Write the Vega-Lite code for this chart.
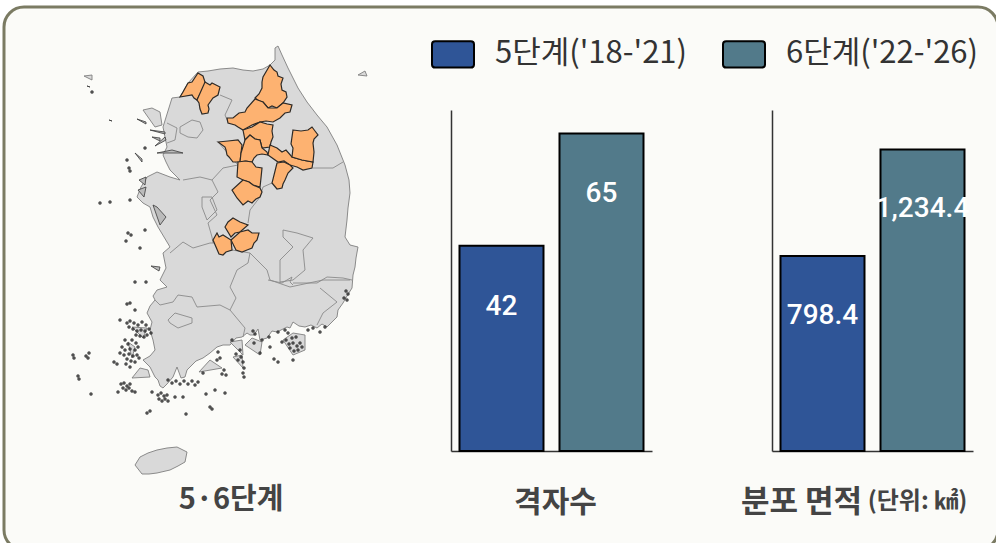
{
"$schema":"https://vega.github.io/schema/vega-lite/v6.json",
"width":994,"height":543,
"autosize":"none",
"padding":{"left":4,"top":7,"right":0,"bottom":0},
"background":"#ffffff",
"view":{"fill":"#fbfbf8","stroke":"#7b7b63","strokeWidth":3,"cornerRadius":20},
"config":{"font":"Noto Sans CJK KR"},
"datasets":{
"land":[
{"type":"Feature","properties":{"name":"본토"},"geometry":{"type":"Polygon","coordinates":[[[172,98],[180,97],[188,83],[198,72],[208,71],[220,69],[233,68],[243,70],[253,71],[263,69],[270,65],[275,60],[275,48],[278,46],[282,55],[288,68],[298,88],[307,102],[317,115],[327,127],[337,145],[345,165],[349,180],[350,193],[348,208],[347,220],[345,237],[350,245],[358,247],[356,258],[355,267],[353,275],[352,288],[347,296],[343,303],[338,310],[337,317],[327,327],[322,324],[317,328],[311,325],[305,327],[299,326],[293,322],[290,328],[287,327],[277,332],[272,331],[267,338],[260,340],[258,329],[254,335],[250,335],[247,333],[242,337],[236,338],[230,345],[223,345],[217,347],[210,353],[203,358],[196,361],[190,367],[187,370],[185,377],[181,378],[177,367],[175,372],[173,377],[167,384],[163,388],[160,386],[158,380],[155,377],[150,367],[143,360],[150,356],[155,350],[153,340],[150,330],[152,322],[147,313],[150,306],[155,300],[153,296],[157,290],[167,287],[160,280],[166,268],[163,253],[170,247],[164,237],[158,227],[153,217],[150,207],[143,203],[137,197],[141,187],[147,177],[157,172],[170,177],[180,180],[175,175],[170,170],[166,162],[163,155],[167,147],[165,137],[163,127],[163,112]]]}},
{"type":"Feature","properties":{"name":"강화"},"geometry":{"type":"Polygon","coordinates":[[[143,110],[152,108],[160,112],[162,125],[155,127],[148,120]]]}},
{"type":"Feature","properties":{"name":"제주"},"geometry":{"type":"Polygon","coordinates":[[[135,465],[140,457],[148,453],[157,450],[167,448],[177,447],[187,452],[185,462],[178,466],[170,470],[157,473],[149,474],[142,474],[138,470]]]}},
{"type":"Feature","properties":{"name":"백령"},"geometry":{"type":"Polygon","coordinates":[[[84,76],[92,75],[92,80],[87,81]]]}},
{"type":"Feature","properties":{"name":"울릉"},"geometry":{"type":"Polygon","coordinates":[[[358,75],[365,71],[367,76],[362,80]]]}},
{"type":"Feature","properties":{"name":"진도"},"geometry":{"type":"Polygon","coordinates":[[[132,378],[140,368],[148,370],[150,377],[140,383]]]}},
{"type":"Feature","properties":{"name":"완도권"},"geometry":{"type":"Polygon","coordinates":[[[199,372],[210,360],[222,368],[212,377]]]}},
{"type":"Feature","properties":{"name":"남해"},"geometry":{"type":"Polygon","coordinates":[[[245,345],[252,338],[262,342],[260,355],[250,355]]]}},
{"type":"Feature","properties":{"name":"거제"},"geometry":{"type":"Polygon","coordinates":[[[283,340],[293,333],[305,335],[305,350],[293,355],[287,348]]]}},
{"type":"Feature","properties":{"name":"고흥권"},"geometry":{"type":"Polygon","coordinates":[[[230,342],[242,340],[243,355],[232,355]]]}},
{"type":"Feature","properties":{"name":"돌산"},"geometry":{"type":"Polygon","coordinates":[[[233,357],[242,355],[243,368],[235,365]]]}},
{"type":"Feature","properties":{"name":"신안1"},"geometry":{"type":"Polygon","coordinates":[[[128,342],[135,347],[132,358],[120,353]]]}},
{"type":"Feature","properties":{"name":"신안2"},"geometry":{"type":"Polygon","coordinates":[[[132,327],[147,328],[143,338],[135,335]]]}}
],
"borders":[
{"type":"Feature","properties":{"name":"경계"},"geometry":{"type":"MultiLineString","coordinates":[
[[220,95],[232,100],[225,115],[228,122]],
[[218,142],[238,165],[223,168],[212,180],[200,177],[183,180]],
[[313,168],[333,168],[343,162]],
[[272,183],[263,187],[260,197],[250,210],[248,223]],
[[212,180],[218,192],[210,200],[217,215],[208,223],[212,237],[213,243]],
[[202,197],[212,197],[217,210],[207,220],[202,207],[202,197]],
[[170,253],[183,242],[193,248],[210,243],[217,243]],
[[232,250],[250,253],[248,263],[237,270],[230,287],[236,298],[230,310],[245,328],[243,337]],
[[155,300],[160,305],[173,302],[178,295],[192,297],[197,307],[220,305],[230,310]],
[[250,253],[267,270],[270,280],[290,287],[323,280],[350,280]],
[[283,230],[297,233],[313,238],[303,250],[305,270],[293,280],[280,282],[280,260],[293,247],[283,237],[283,230]],
[[168,320],[175,313],[192,318],[192,323],[178,328],[170,323],[168,320]],
[[293,283],[317,283],[327,277],[343,278],[352,280]],
[[320,288],[337,302],[323,313],[317,325]],
[[268,280],[282,283],[292,277],[290,282],[293,285]],
[[180,127],[192,120],[200,122],[203,130],[197,138],[188,137],[180,133],[180,127]],
[[167,123],[177,128],[175,140],[167,143]]
]}}
],
"isles":[
{"type":"Feature","properties":{"name":"서해 도서"},"geometry":{"type":"MultiPolygon","coordinates":[
[[[87,86],[90,87],[89,90]]],[[[109,120],[112,121],[110,125]]],
[[[137,119],[146,122],[146,124],[138,121]]],[[[150,130],[165,132],[165,134],[151,132]]],[[[152,137],[160,138],[160,141],[154,140]]],[[[155,146],[165,137],[166,140],[158,147]]],
[[[135,153],[142,159],[142,162],[136,158]]],[[[157,153],[172,150],[183,153],[170,155]]],
[[[139,180],[146,177],[145,185],[141,186]]],[[[138,190],[146,187],[144,197],[139,197]]],
[[[153,205],[157,207],[166,217],[160,225],[155,218]]],[[[151,266],[160,267],[159,271],[153,270]]]
]}}
],
"specks":[
{"lon":92,"lat":92},{"lon":127,"lat":160},{"lon":129,"lat":168},{"lon":130,"lat":171},{"lon":145,"lat":148},{"lon":100,"lat":203},{"lon":110,"lat":202},{"lon":130,"lat":200},{"lon":128,"lat":233},{"lon":131,"lat":235},{"lon":126,"lat":241},{"lon":145,"lat":230},{"lon":140,"lat":248},{"lon":135,"lat":282},{"lon":146,"lat":282},{"lon":127,"lat":304},{"lon":130,"lat":303},{"lon":135,"lat":310},{"lon":120,"lat":320},
{"lon":127,"lat":323},{"lon":130,"lat":321},{"lon":134,"lat":323},{"lon":138,"lat":325},{"lon":142,"lat":322},{"lon":146,"lat":325},{"lon":129,"lat":327},{"lon":133,"lat":329},{"lon":137,"lat":331},{"lon":141,"lat":330},{"lon":145,"lat":331},{"lon":149,"lat":329},{"lon":136,"lat":335},{"lon":140,"lat":336},{"lon":144,"lat":337},{"lon":147,"lat":335},{"lon":151,"lat":333},
{"lon":125,"lat":340},{"lon":128,"lat":344},{"lon":132,"lat":340},{"lon":136,"lat":343},{"lon":122,"lat":347},{"lon":125,"lat":350},{"lon":130,"lat":349},{"lon":135,"lat":350},{"lon":138,"lat":347},{"lon":120,"lat":353},{"lon":124,"lat":355},{"lon":129,"lat":354},{"lon":133,"lat":356},{"lon":137,"lat":355},{"lon":127,"lat":359},{"lon":131,"lat":361},{"lon":135,"lat":362},{"lon":139,"lat":358},{"lon":114,"lat":362},{"lon":117,"lat":364},{"lon":126,"lat":364},{"lon":130,"lat":367},
{"lon":121,"lat":384},{"lon":124,"lat":383},{"lon":127,"lat":386},{"lon":130,"lat":384},{"lon":123,"lat":388},{"lon":126,"lat":390},{"lon":129,"lat":388},{"lon":132,"lat":391},{"lon":118,"lat":392},{"lon":135,"lat":392},{"lon":152,"lat":392},
{"lon":158,"lat":395},{"lon":161,"lat":393},{"lon":164,"lat":396},{"lon":167,"lat":395},{"lon":159,"lat":399},{"lon":162,"lat":401},{"lon":165,"lat":399},{"lon":168,"lat":401},{"lon":183,"lat":397},{"lon":175,"lat":397},
{"lon":168,"lat":380},{"lon":172,"lat":383},{"lon":176,"lat":381},{"lon":180,"lat":384},{"lon":184,"lat":381},{"lon":188,"lat":384},{"lon":192,"lat":381},{"lon":195,"lat":385},{"lon":198,"lat":382},{"lon":203,"lat":373},{"lon":206,"lat":394},{"lon":215,"lat":390},{"lon":225,"lat":393},{"lon":210,"lat":407},{"lon":212,"lat":409},{"lon":147,"lat":413},{"lon":150,"lat":411},{"lon":186,"lat":414},{"lon":73,"lat":355},{"lon":74,"lat":358},{"lon":86,"lat":356},{"lon":89,"lat":353},{"lon":88,"lat":358},{"lon":78,"lat":376},{"lon":79,"lat":379},{"lon":91,"lat":394},
{"lon":218,"lat":352},{"lon":220,"lat":358},{"lon":217,"lat":360},{"lon":224,"lat":370},{"lon":222,"lat":374},{"lon":226,"lat":375},{"lon":236,"lat":354},{"lon":240,"lat":350},{"lon":238,"lat":360},{"lon":241,"lat":357},{"lon":243,"lat":362},{"lon":244,"lat":368},{"lon":243,"lat":373},{"lon":244,"lat":377},{"lon":253,"lat":331},{"lon":255,"lat":334},{"lon":260,"lat":353},{"lon":274,"lat":359},{"lon":278,"lat":362},{"lon":270,"lat":347},{"lon":282,"lat":342},
{"lon":285,"lat":330},{"lon":288,"lat":333},{"lon":292,"lat":338},{"lon":296,"lat":337},{"lon":286,"lat":340},{"lon":289,"lat":344},{"lon":293,"lat":343},{"lon":297,"lat":346},{"lon":300,"lat":343},{"lon":290,"lat":348},{"lon":294,"lat":351},{"lon":298,"lat":350},{"lon":302,"lat":347},{"lon":293,"lat":360},{"lon":308,"lat":330},{"lon":313,"lat":328},{"lon":320,"lat":332},{"lon":325,"lat":327},{"lon":346,"lat":291},{"lon":348,"lat":294},{"lon":344,"lat":298},{"lon":347,"lat":300},{"lon":278,"lat":332},{"lon":254,"lat":343},{"lon":232,"lat":340},{"lon":262,"lat":340},{"lon":269,"lat":337}
],
"orange":[
{"type":"Feature","properties":{"name":"a"},"geometry":{"type":"Polygon","coordinates":[[[180,97],[183,92],[188,83],[192,82],[198,73],[203,76],[205,82],[204,88],[202,92],[199,96],[197,100],[194,98],[192,95],[186,94]]]}},
{"type":"Feature","properties":{"name":"b"},"geometry":{"type":"Polygon","coordinates":[[[205,82],[210,85],[212,83],[220,87],[218,95],[213,98],[208,105],[209,109],[208,113],[202,114],[200,109],[199,103],[197,100],[202,92]]]}},
{"type":"Feature","properties":{"name":"c"},"geometry":{"type":"Polygon","coordinates":[[[270,65],[274,70],[277,72],[278,76],[283,78],[281,84],[282,90],[286,92],[287,97],[283,103],[277,108],[272,106],[268,108],[263,102],[259,101],[255,98],[259,94],[262,88],[262,82],[263,77],[268,70]]]}},
{"type":"Feature","properties":{"name":"d"},"geometry":{"type":"Polygon","coordinates":[[[255,99],[263,102],[268,108],[277,108],[283,103],[292,105],[290,112],[285,113],[280,118],[273,122],[266,121],[260,122],[252,125],[243,130],[238,127],[235,125],[228,123],[227,118],[233,118],[239,113],[245,112],[247,108],[250,105]]]}},
{"type":"Feature","properties":{"name":"e"},"geometry":{"type":"Polygon","coordinates":[[[243,130],[252,127],[260,122],[267,124],[273,125],[272,131],[273,137],[271,142],[270,147],[262,148],[260,140],[255,139],[250,135],[245,140],[242,137]]]}},
{"type":"Feature","properties":{"name":"f"},"geometry":{"type":"Polygon","coordinates":[[[218,142],[228,141],[238,140],[242,145],[241,153],[240,162],[233,162],[229,157],[227,155],[226,150],[225,147],[220,145]]]}},
{"type":"Feature","properties":{"name":"g"},"geometry":{"type":"Polygon","coordinates":[[[245,140],[250,135],[255,139],[260,140],[262,148],[267,152],[268,155],[262,154],[257,155],[254,158],[252,162],[246,161],[240,162],[241,153],[242,145]]]}},
{"type":"Feature","properties":{"name":"h"},"geometry":{"type":"Polygon","coordinates":[[[270,145],[277,148],[282,152],[286,150],[292,157],[302,160],[313,162],[312,168],[303,170],[297,167],[290,165],[284,161],[278,162],[268,155],[267,152]]]}},
{"type":"Feature","properties":{"name":"i"},"geometry":{"type":"Polygon","coordinates":[[[293,130],[301,131],[308,130],[312,127],[315,131],[318,135],[314,139],[313,143],[314,152],[313,162],[302,160],[292,157],[293,148],[291,144],[290,138]]]}},
{"type":"Feature","properties":{"name":"j"},"geometry":{"type":"Polygon","coordinates":[[[277,163],[284,162],[290,165],[293,168],[288,173],[285,180],[283,184],[282,188],[277,189],[272,183],[271,172]]]}},
{"type":"Feature","properties":{"name":"k"},"geometry":{"type":"Polygon","coordinates":[[[238,162],[245,161],[252,162],[256,167],[262,168],[261,178],[260,187],[253,185],[249,182],[243,180],[237,177],[233,173]]]}},
{"type":"Feature","properties":{"name":"l"},"geometry":{"type":"Polygon","coordinates":[[[243,180],[249,182],[253,185],[260,188],[262,192],[260,197],[256,199],[252,203],[248,201],[243,205],[237,198],[232,190],[235,183]]]}},
{"type":"Feature","properties":{"name":"m"},"geometry":{"type":"Polygon","coordinates":[[[225,227],[228,222],[233,218],[240,222],[248,225],[240,232],[235,233],[231,237],[223,235]]]}},
{"type":"Feature","properties":{"name":"n"},"geometry":{"type":"Polygon","coordinates":[[[231,240],[240,232],[248,230],[252,233],[259,233],[257,240],[254,243],[252,248],[247,250],[242,252],[236,250],[232,247]]]}},
{"type":"Feature","properties":{"name":"o"},"geometry":{"type":"Polygon","coordinates":[[[213,240],[217,233],[219,237],[223,235],[231,240],[232,250],[226,252],[223,255],[219,254],[217,250]]]}}
],
"cells":[{"period":"5단계('18-'21)","value":42},{"period":"6단계('22-'26)","value":65}],
"area":[{"period":"5단계('18-'21)","value":798.4,"label":"798.4"},{"period":"6단계('22-'26)","value":1234.4,"label":"1,234.4"}]
},
"layer":[
{"data":{"name":"land"},"mark":{"type":"geoshape","fill":"#d9d9d9","stroke":"#7f7f7f","strokeWidth":0.9},"projection":{"type":"identity","scale":1,"translate":[-4,-7]}},
{"data":{"name":"borders"},"mark":{"type":"geoshape","filled":false,"stroke":"#8a8a8a","strokeWidth":0.9},"projection":{"type":"identity","scale":1,"translate":[-4,-7]}},
{"data":{"name":"isles"},"mark":{"type":"geoshape","fill":"#bbbbbb","stroke":"#3a3a3a","strokeWidth":0.8},"projection":{"type":"identity","scale":1,"translate":[-4,-7]}},
{"data":{"name":"specks"},"mark":{"type":"point","filled":true,"shape":"circle","size":9,"fill":"#333333","stroke":"#333333","strokeWidth":0.5,"opacity":0.85},"projection":{"type":"identity","scale":1,"translate":[-4,-7]},"encoding":{"longitude":{"field":"lon","type":"quantitative"},"latitude":{"field":"lat","type":"quantitative"}}},
{"data":{"name":"orange"},"mark":{"type":"geoshape","fill":"#fdb271","stroke":"#2e2a26","strokeWidth":1.2},"projection":{"type":"identity","scale":1,"translate":[-4,-7]}},
{"data":{"values":[{"title":"5·6단계","lon":231,"lat":500}]},"mark":{"type":"text","font":"Noto Sans CJK KR","fontWeight":"bold","fontSize":29,"color":"#444444"},"projection":{"type":"identity","scale":1,"translate":[-4,-7]},"encoding":{"longitude":{"field":"lon","type":"quantitative"},"latitude":{"field":"lat","type":"quantitative"},"text":{"field":"title"}}},
{"data":{"name":"cells"},
"encoding":{
"x":{"field":"period","type":"nominal","sort":null,"scale":{"range":[447,648],"paddingInner":0.16,"paddingOuter":0.085},
"axis":{"orient":"bottom","offset":-99,"labels":false,"ticks":false,"domainColor":"#333333","domainWidth":1.5,"grid":false,"title":"격자수","titleFont":"Noto Sans CJK KR","titleFontWeight":"bold","titleFontSize":30,"titleColor":"#444444","titleX":551,"titleY":51,"titleAlign":"center","titleBaseline":"middle"}},
"y":{"field":"value","type":"quantitative","scale":{"domain":[0,69.8],"range":[444,103],"nice":false},
"axis":{"orient":"left","offset":-447,"labels":false,"ticks":false,"grid":false,"title":null,"domainColor":"#333333","domainWidth":1.5}}
},
"layer":[
{"mark":{"type":"bar","stroke":"#000000","strokeWidth":2},"encoding":{"fill":{"field":"period","type":"nominal","sort":null,"scale":{"domain":["5단계('18-'21)","6단계('22-'26)"],"range":["#2f5597","#527a8a"]},
"legend":{"orient":"none","legendX":427,"legendY":25,"direction":"horizontal","columns":2,"title":null,"symbolType":"M-0.85,-0.63 L0.85,-0.63 Q1,-0.63 1,-0.48 L1,0.48 Q1,0.63 0.85,0.63 L-0.85,0.63 Q-1,0.63 -1,0.48 L-1,-0.48 Q-1,-0.63 -0.85,-0.63 Z","symbolSize":1764,"symbolStrokeColor":"#000000","symbolStrokeWidth":2,"symbolOpacity":1,"labelFont":"Noto Sans CJK KR","labelFontSize":31,"labelColor":"#333333","labelOffset":20,"labelLimit":300,"columnPadding":31}}}},
{"mark":{"type":"text","font":"Roboto","fontWeight":500,"fontSize":28,"color":"#ffffff","baseline":"middle","dy":61},"encoding":{"text":{"field":"value","type":"quantitative"}}}
]},
{"data":{"name":"area"},
"encoding":{
"x":{"field":"period","type":"nominal","sort":null,"scale":{"range":[768,969],"paddingInner":0.16,"paddingOuter":0.085},
"axis":{"orient":"bottom","offset":-99,"labels":false,"ticks":false,"domainColor":"#333333","domainWidth":1.5,"grid":false,"title":"분포 면적","titleFont":"Noto Sans CJK KR","titleFontWeight":"bold","titleFontSize":31,"titleColor":"#444444","titleX":797,"titleY":51,"titleAlign":"center","titleBaseline":"middle"}},
"y":{"field":"value","type":"quantitative","scale":{"domain":[0,1396],"range":[444,103],"nice":false},
"axis":{"orient":"left","offset":-768,"labels":false,"ticks":false,"grid":false,"domainColor":"#333333","domainWidth":1.5,"title":"(단위: ㎢)","titleFont":"Noto Sans CJK KR","titleFontWeight":"bold","titleFontSize":24,"titleColor":"#444444","titleAngle":0,"titleX":145,"titleY":494,"titleAlign":"center","titleBaseline":"middle"}}
},
"layer":[
{"mark":{"type":"bar","stroke":"#000000","strokeWidth":2},"encoding":{"fill":{"field":"period","type":"nominal","sort":null,"scale":{"domain":["5단계('18-'21)","6단계('22-'26)"],"range":["#2f5597","#527a8a"]},"legend":null}}},
{"mark":{"type":"text","font":"Roboto","fontWeight":500,"fontSize":28,"color":"#ffffff","baseline":"middle","dy":60},"encoding":{"text":{"field":"label"}}}
]}
],
"resolve":{"scale":{"x":"independent","y":"independent","fill":"shared"},"axis":{"x":"independent","y":"independent"}}
}
